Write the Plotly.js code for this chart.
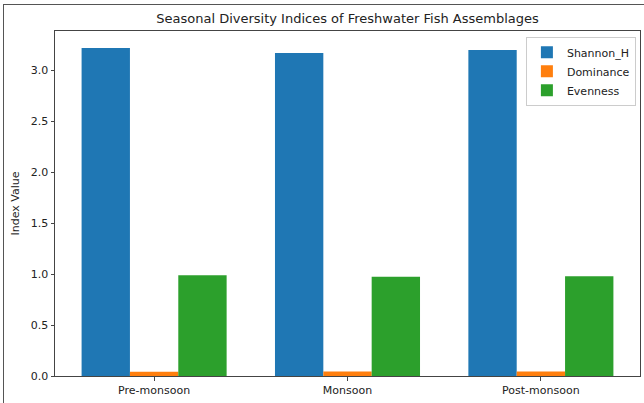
<!DOCTYPE html>
<html>
<head>
<meta charset="utf-8">
<script src="https://cdn.plot.ly/plotly-3.0.1.min.js"></script>
<style>
  html, body { margin: 0; padding: 0; background: #fff; overflow: hidden; }
  #wrap { position: relative; width: 644px; height: 403px; }
  #chart { position: absolute; left: 0; top: 0; width: 644px; height: 403px; }
  #frame { position: absolute; left: 3px; top: 4px; width: 700px; height: 500px;
           border-left: 1.5px solid #555; border-top: 1.5px solid #555; pointer-events: none; }
</style>
</head>
<body>
<div id="wrap">
  <div id="chart"></div>
  <div id="frame"></div>
</div>
<script>
const seasons = ["Pre-monsoon", "Monsoon", "Post-monsoon"];
const shannonH = [3.22, 3.17, 3.20];
const dominance = [0.042, 0.044, 0.043];
const evenness = [0.99, 0.975, 0.98];
const seriesNames = ["Shannon_H", "Dominance", "Evenness"];
const seriesColors = ["#1f77b4", "#ff7f0e", "#2ca02c"];
const yTicks = [0, 0.5, 1.0, 1.5, 2.0, 2.5, 3.0];
const yTickText = ["0.0", "0.5", "1.0", "1.5", "2.0", "2.5", "3.0"];

const values = [shannonH, dominance, evenness];
const traces = values.map((v, i) => ({
  type: "bar",
  name: seriesNames[i],
  x: seasons,
  y: v,
  marker: { color: seriesColors[i], line: { width: 0 } },
  hoverinfo: "skip"
}));

const font = "DejaVu Sans, sans-serif";
const layout = {
  width: 644,
  height: 403,
  margin: { l: 55, r: 4, t: 31, b: 27, pad: 0 },
  paper_bgcolor: "#ffffff",
  plot_bgcolor: "#ffffff",
  barmode: "group",
  bargap: 0.25,
  bargroupgap: 0,
  font: { family: font, size: 11, color: "#222" },
  title: {
    text: "Seasonal Diversity Indices of Freshwater Fish Assemblages",
    font: { family: font, size: 13, color: "#222" },
    x: 0.5, xref: "paper", xanchor: "center",
    y: 0.955, yref: "container", yanchor: "middle"
  },
  xaxis: {
    type: "category",
    range: [-0.5125, 2.5125],
    showline: true, linecolor: "#444", linewidth: 1, mirror: true,
    ticks: "outside", ticklen: 3.5, tickcolor: "#444", tickwidth: 1,
    showgrid: false, zeroline: false,
    tickfont: { family: font, size: 11, color: "#222" }
  },
  yaxis: {
    range: [0, 3.387],
    tickvals: yTicks,
    ticktext: yTickText,
    showline: true, linecolor: "#444", linewidth: 1, mirror: true,
    ticks: "outside", ticklen: 3.5, tickcolor: "#444", tickwidth: 1,
    showgrid: false, zeroline: false,
    tickfont: { family: font, size: 11, color: "#222" },
    title: { text: "Index Value", font: { family: font, size: 11, color: "#222" }, standoff: 8 }
  },
  legend: {
    x: 0.993, xanchor: "right", y: 0.983, yanchor: "top",
    bgcolor: "rgba(255,255,255,0.85)",
    bordercolor: "#cccccc", borderwidth: 1,
    font: { family: font, size: 11, color: "#222" },
    tracegroupgap: 0, itemwidth: 30
  },
  showlegend: true
};

Plotly.newPlot("chart", traces, layout, { displayModeBar: false, staticPlot: true });
</script>
</body>
</html>
